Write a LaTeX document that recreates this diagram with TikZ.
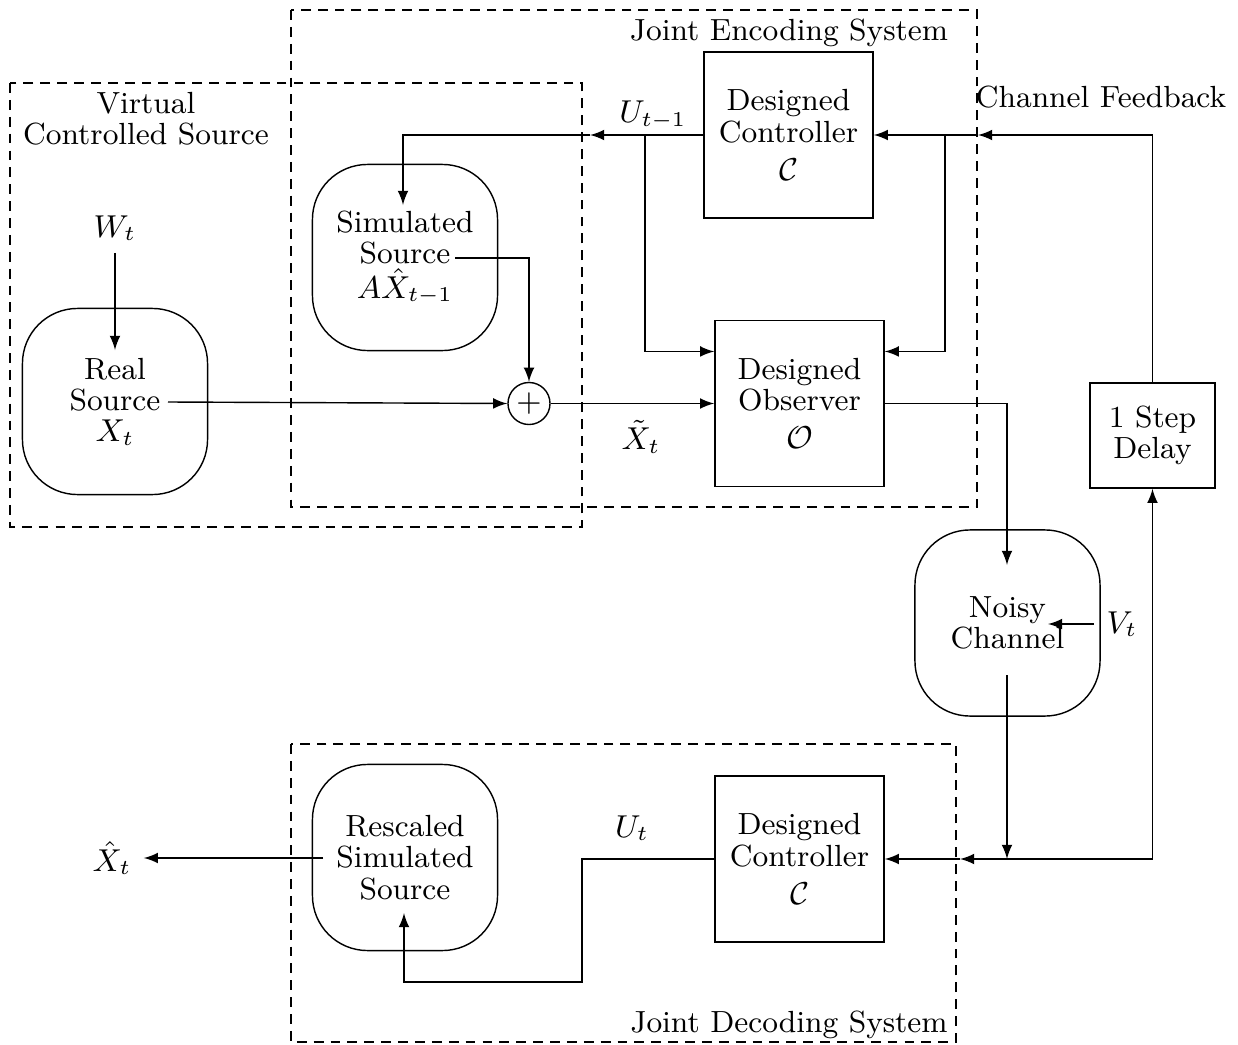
\documentclass[tikz,border=0pt]{standalone}
\usetikzlibrary{positioning, arrows}

\begin{document}
\begin{tikzpicture}[x=0.01cm,y=-0.01cm,>=latex,
    font=\fontsize{8.7}{8.9}\selectfont,
    blk/.style={draw, minimum width=1.69cm, minimum height=1.66cm, align=center},
    src/.style={draw, rounded corners=0.55cm, minimum width=1.85cm,
        minimum height=1.86cm, align=center},
    sysbox/.style={draw, dash pattern=on 2.8pt off 2pt}]

    \useasboundingbox (0,0) rectangle (1238,1045);

    % System boundaries (dashed)
    \draw[sysbox] (10,83) rectangle (582,527);
    \draw[sysbox] (291,10) rectangle (977,507);
    \draw[sysbox] (291,744) rectangle (956,1042);

    % Boundary label(s)
    \node[align=center] (vcs) at (146,119) {Virtual\\Controlled Source};
    \node (jes) at (789,33) {Joint Encoding System};
    \node (cfb) at (1101,97) {Channel Feedback};
    \node (jds) at (789,1025) {Joint Decoding System};

    % Blocks
    \node[blk] (ctrl) at (788.5,135) {Designed\\Controller\\[2pt]$\mathcal{C}$};
    \node[blk] (obs) at (799.5,403.5) {Designed\\Observer\\[2pt]$\mathcal{O}$};
    \node[blk] (ctrl2) at (799.5,859) {Designed\\Controller\\[2pt]$\mathcal{C}$};
    \node[draw, minimum width=1.25cm, minimum height=1.05cm, align=center]
        (delay) at (1152.5,435.5) {1 Step\\Delay};
    \node[src] (rs) at (115,401.5) {Real\\Source\\$X_t$};
    \node[src] (ss) at (405,257.5) {Simulated\\Source\\[1pt]$A\hat{X}_{t-1}$};
    \node[src] (nc) at (1007.5,623) {Noisy\\Channel};
    \node[src] (rss) at (405,857.5) {Rescaled\\Simulated\\Source};
    \node[draw, circle, minimum size=0.42cm, inner sep=0pt] (add) at (529,403.5) {$+$};

    % Signal label(s)
    \node (wt) at (115,228) {$W_t$};
    \node (ut1) at (653,115) {$U_{t-1}$};
    \node (xt) at (641,437) {$\tilde{X}_t$};
    \node (vt) at (1122,624) {$V_t$};
    \node (xhat) at (112,858) {$\hat{X}_t$};
    \node (ut) at (632,828) {$U_t$};

    % Wire end point(s)
    \coordinate (rsin) at (115,350);
    \coordinate (rsout) at (168,402);
    \coordinate (ssout) at (455,258);
    \coordinate (ssin) at (403,205);
    \coordinate (umid) at (590,135);
    \coordinate (ubr) at (645,135);
    \coordinate (fbmid) at (978,135);
    \coordinate (fbbr) at (945,135);
    \coordinate (ncin) at (1007,565);
    \coordinate (ncv) at (1048,624);
    \coordinate (ncout) at (1007,675);
    \coordinate (junc) at (1007,859);
    \coordinate (dmid) at (960,859);
    \coordinate (ucorner) at (582,982);
    \coordinate (rssin) at (404,913);
    \coordinate (rssout) at (323,858);

    % Wire(s) arrow(s)
    \draw[->] (wt) -- (rsin);
    \draw[->] (rsout) -- (add.west);
    \draw[->] (ssout) -| (add.north);
    \draw[->] (add) -- (obs);
    \draw[->] (ctrl.west) -- (umid);
    \draw[->] (umid) -| (ssin);
    \draw[->] (ubr) |- ([yshift=0.52cm]obs.west);
    \draw[->] (delay.north) |- (fbmid);
    \draw[->] (fbmid) -- (ctrl.east);
    \draw[->] (fbbr) |- ([yshift=0.52cm]obs.east);
    \draw[->] (obs.east) -| (ncin);
    \draw[->] (vt.west) -- (ncv);
    \draw[->] (ncout) -- (junc);
    \draw[->] (junc) -| (delay.south);
    \draw[->] (junc) -- (dmid);
    \draw[->] (dmid) -- (ctrl2.east);
    \draw[->] (ctrl2.west) -| (ucorner) -| (rssin);
    \draw[->] (rssout) -- (xhat);

\end{tikzpicture}
\end{document}
